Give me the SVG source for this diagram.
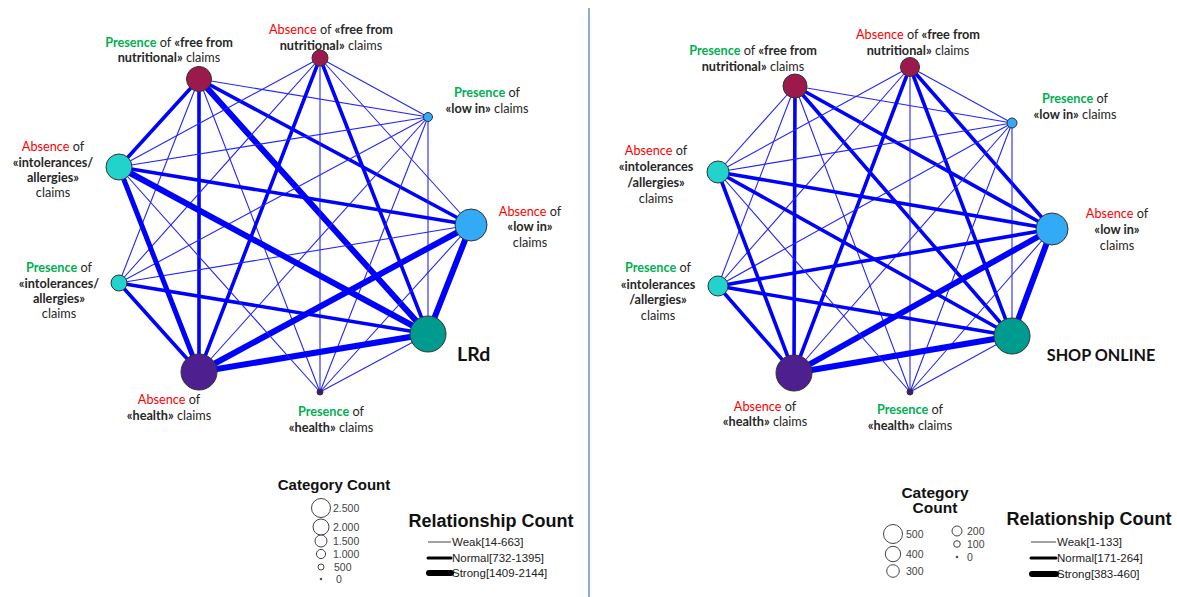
<svg xmlns="http://www.w3.org/2000/svg" width="1177" height="597" viewBox="0 0 1177 597">
<style>
.e{stroke:#0000ff;stroke-linecap:round;fill:none}
.w{stroke-width:1.1;stroke:#2424ff}
.n{stroke-width:3.6}
.s{stroke-width:6}
.nd{stroke:#333;stroke-width:1}
.mar{fill:#9c1a4b}
.lb{fill:#33aaf5}
.cy{fill:#22d3cc}
.tl{fill:#009b8f}
.pu{fill:#4e1f8f}
.dp{fill:#3d1a6e}
.lbl{font-family:Lato,"Open Sans","Liberation Sans",sans-serif;font-size:12.7px;fill:#262626;text-anchor:middle}
.b{font-weight:700}
.pr{fill:#00b050;font-weight:700}
.ab{fill:#ff0000}
.big{font-family:Lato,"Liberation Sans",sans-serif;font-weight:700;fill:#111}
.lg{font-family:"Liberation Sans",Arial,sans-serif;fill:#111}
.lgt{font-weight:700;text-anchor:middle}
.lgl{font-size:10.5px;fill:#444}
.lgr{font-size:11.5px;fill:#222}
.lc{fill:#fff;stroke:#444;stroke-width:1}
</style>
<line x1="589" y1="8" x2="589" y2="597" stroke="#4472c4" stroke-width="1.2"/>

<g id="connectors-left">
<line class="e w" x1="199" y1="79" x2="428" y2="117"/>
<line class="e n" x1="199" y1="79" x2="471" y2="225"/>
<line class="e s" x1="199" y1="79" x2="428" y2="334"/>
<line class="e w" x1="199" y1="79" x2="320" y2="392"/>
<line class="e n" x1="199" y1="79" x2="199" y2="372"/>
<line class="e w" x1="199" y1="79" x2="119" y2="283"/>
<line class="e n" x1="199" y1="79" x2="119" y2="167"/>
<line class="e w" x1="320" y1="58" x2="428" y2="117"/>
<line class="e w" x1="320" y1="58" x2="471" y2="225"/>
<line class="e n" x1="320" y1="58" x2="428" y2="334"/>
<line class="e w" x1="320" y1="58" x2="320" y2="392"/>
<line class="e n" x1="320" y1="58" x2="199" y2="372"/>
<line class="e w" x1="320" y1="58" x2="119" y2="283"/>
<line class="e w" x1="320" y1="58" x2="119" y2="167"/>
<line class="e w" x1="428" y1="117" x2="428" y2="334"/>
<line class="e w" x1="428" y1="117" x2="320" y2="392"/>
<line class="e w" x1="428" y1="117" x2="199" y2="372"/>
<line class="e w" x1="428" y1="117" x2="119" y2="283"/>
<line class="e w" x1="428" y1="117" x2="119" y2="167"/>
<line class="e s" x1="471" y1="225" x2="428" y2="334"/>
<line class="e w" x1="471" y1="225" x2="320" y2="392"/>
<line class="e s" x1="471" y1="225" x2="199" y2="372"/>
<line class="e w" x1="471" y1="225" x2="119" y2="283"/>
<line class="e n" x1="471" y1="225" x2="119" y2="167"/>
<line class="e w" x1="428" y1="334" x2="320" y2="392"/>
<line class="e s" x1="428" y1="334" x2="199" y2="372"/>
<line class="e n" x1="428" y1="334" x2="119" y2="283"/>
<line class="e s" x1="428" y1="334" x2="119" y2="167"/>
<line class="e w" x1="320" y1="392" x2="119" y2="167"/>
<line class="e n" x1="199" y1="372" x2="119" y2="283"/>
<line class="e" stroke-width="5" x1="199" y1="372" x2="119" y2="167"/>
</g>

<g id="connectors-right">
<line class="e w" x1="795" y1="86" x2="1012" y2="123"/>
<line class="e n" x1="795" y1="86" x2="1052" y2="229"/>
<line class="e n" x1="795" y1="86" x2="1012" y2="336"/>
<line class="e w" x1="795" y1="86" x2="910" y2="392"/>
<line class="e n" x1="795" y1="86" x2="794" y2="373"/>
<line class="e w" x1="795" y1="86" x2="718" y2="286"/>
<line class="e w" x1="795" y1="86" x2="718" y2="172"/>
<line class="e w" x1="910" y1="67" x2="1012" y2="123"/>
<line class="e n" x1="910" y1="67" x2="1052" y2="229"/>
<line class="e n" x1="910" y1="67" x2="1012" y2="336"/>
<line class="e w" x1="910" y1="67" x2="910" y2="392"/>
<line class="e n" x1="910" y1="67" x2="794" y2="373"/>
<line class="e w" x1="910" y1="67" x2="718" y2="286"/>
<line class="e w" x1="910" y1="67" x2="718" y2="172"/>
<line class="e w" x1="1012" y1="123" x2="1012" y2="336"/>
<line class="e w" x1="1012" y1="123" x2="910" y2="392"/>
<line class="e w" x1="1012" y1="123" x2="794" y2="373"/>
<line class="e w" x1="1012" y1="123" x2="718" y2="286"/>
<line class="e w" x1="1012" y1="123" x2="718" y2="172"/>
<line class="e s" x1="1052" y1="229" x2="1012" y2="336"/>
<line class="e w" x1="1052" y1="229" x2="910" y2="392"/>
<line class="e s" x1="1052" y1="229" x2="794" y2="373"/>
<line class="e n" x1="1052" y1="229" x2="718" y2="286"/>
<line class="e n" x1="1052" y1="229" x2="718" y2="172"/>
<line class="e w" x1="1012" y1="336" x2="910" y2="392"/>
<line class="e s" x1="1012" y1="336" x2="794" y2="373"/>
<line class="e n" x1="1012" y1="336" x2="718" y2="286"/>
<line class="e n" x1="1012" y1="336" x2="718" y2="172"/>
<line class="e w" x1="910" y1="392" x2="718" y2="172"/>
<line class="e n" x1="794" y1="373" x2="718" y2="286"/>
<line class="e n" x1="794" y1="373" x2="718" y2="172"/>
</g>

<!-- Left network nodes -->
<g id="L-presence-free">
<circle class="nd mar" cx="199" cy="79" r="12.5"/>
<text class="lbl" x="169" y="46.5"><tspan class="pr">Presence</tspan> of <tspan class="b">«free from</tspan></text>
<text class="lbl" x="169" y="61.5"><tspan class="b">nutritional»</tspan> claims</text>
</g>
<g id="L-absence-free">
<circle class="nd mar" cx="320" cy="58" r="8"/>
<text class="lbl" x="331" y="33.5"><tspan class="ab">Absence</tspan> of <tspan class="b">«free from</tspan></text>
<text class="lbl" x="331" y="49.5"><tspan class="b">nutritional»</tspan> claims</text>
</g>
<g id="L-presence-lowin">
<circle class="nd lb" cx="428" cy="117" r="4.5"/>
<text class="lbl" x="487" y="96.5"><tspan class="pr">Presence</tspan> of</text>
<text class="lbl" x="487" y="112.5"><tspan class="b">«low in»</tspan> claims</text>
</g>
<g id="L-absence-lowin">
<circle class="nd lb" cx="471" cy="225" r="16"/>
<text class="lbl" x="530" y="215.5"><tspan class="ab">Absence</tspan> of</text>
<text class="lbl b" x="530" y="230.5">«low in»</text>
<text class="lbl" x="530" y="246.5">claims</text>
</g>
<g id="L-LRd">
<circle class="nd tl" cx="428" cy="334" r="18"/>
<text class="big" x="457" y="361" font-size="19.5">LRd</text>
</g>
<g id="L-presence-health">
<circle class="nd dp" cx="320" cy="392" r="3"/>
<text class="lbl" x="331" y="415.5"><tspan class="pr">Presence</tspan> of</text>
<text class="lbl" x="331" y="431.5"><tspan class="b">«health»</tspan> claims</text>
</g>
<g id="L-absence-health">
<circle class="nd pu" cx="199" cy="372" r="18"/>
<text class="lbl" x="169" y="403.5"><tspan class="ab">Absence</tspan> of</text>
<text class="lbl" x="169" y="419.5"><tspan class="b">«health»</tspan> claims</text>
</g>
<g id="L-presence-intol">
<circle class="nd cy" cx="119" cy="283" r="8"/>
<text class="lbl" x="59" y="271.5"><tspan class="pr">Presence</tspan> of</text>
<text class="lbl b" x="59" y="287.5">«intolerances/</text>
<text class="lbl b" x="59" y="302.5">allergies»</text>
<text class="lbl" x="59" y="317.5">claims</text>
</g>
<g id="L-absence-intol">
<circle class="nd cy" cx="119" cy="167" r="13"/>
<text class="lbl" x="53" y="150.5"><tspan class="ab">Absence</tspan> of</text>
<text class="lbl b" x="53" y="166.5">«intolerances/</text>
<text class="lbl b" x="53" y="181.5">allergies»</text>
<text class="lbl" x="53" y="196.5">claims</text>
</g>

<!-- Right network nodes -->
<g id="R-presence-free">
<circle class="nd mar" cx="795" cy="86" r="12"/>
<text class="lbl" x="753" y="54.5"><tspan class="pr">Presence</tspan> of <tspan class="b">«free from</tspan></text>
<text class="lbl" x="753" y="70.5"><tspan class="b">nutritional»</tspan> claims</text>
</g>
<g id="R-absence-free">
<circle class="nd mar" cx="910" cy="67" r="9.5"/>
<text class="lbl" x="918" y="38.5"><tspan class="ab">Absence</tspan> of <tspan class="b">«free from</tspan></text>
<text class="lbl" x="918" y="54.5"><tspan class="b">nutritional»</tspan> claims</text>
</g>
<g id="R-presence-lowin">
<circle class="nd lb" cx="1012" cy="123" r="5"/>
<text class="lbl" x="1075" y="102.5"><tspan class="pr">Presence</tspan> of</text>
<text class="lbl" x="1075" y="118.5"><tspan class="b">«low in»</tspan> claims</text>
</g>
<g id="R-absence-lowin">
<circle class="nd lb" cx="1052" cy="229" r="16"/>
<text class="lbl" x="1117" y="217.5"><tspan class="ab">Absence</tspan> of</text>
<text class="lbl b" x="1117" y="233.5">«low in»</text>
<text class="lbl" x="1117" y="249.5">claims</text>
</g>
<g id="R-shop-online">
<circle class="nd tl" cx="1012" cy="336" r="18"/>
<text class="big" x="1101" y="361" text-anchor="middle" font-size="16.2">SHOP ONLINE</text>
</g>
<g id="R-presence-health">
<circle class="nd dp" cx="910" cy="392" r="3"/>
<text class="lbl" x="910" y="413.5"><tspan class="pr">Presence</tspan> of</text>
<text class="lbl" x="910" y="429.5"><tspan class="b">«health»</tspan> claims</text>
</g>
<g id="R-absence-health">
<circle class="nd pu" cx="794" cy="373" r="18"/>
<text class="lbl" x="765" y="410.5"><tspan class="ab">Absence</tspan> of</text>
<text class="lbl" x="765" y="425.5"><tspan class="b">«health»</tspan> claims</text>
</g>
<g id="R-presence-intol">
<circle class="nd cy" cx="718" cy="286" r="10"/>
<text class="lbl" x="658" y="271.5"><tspan class="pr">Presence</tspan> of</text>
<text class="lbl b" x="658" y="288.5">«intolerances</text>
<text class="lbl b" x="658" y="303.5">/allergies»</text>
<text class="lbl" x="658" y="319.5">claims</text>
</g>
<g id="R-absence-intol">
<circle class="nd cy" cx="718" cy="172" r="11"/>
<text class="lbl" x="656" y="154.5"><tspan class="ab">Absence</tspan> of</text>
<text class="lbl b" x="656" y="170.5">«intolerances</text>
<text class="lbl b" x="656" y="186.5">/allergies»</text>
<text class="lbl" x="656" y="202.5">claims</text>
</g>

<!-- Left legend -->
<g id="L-legend-category" class="lg">
<text class="lgt" x="334" y="490" font-size="15">Category Count</text>
<circle class="lc" cx="321" cy="508" r="9.5"/>
<circle class="lc" cx="321" cy="527" r="8"/>
<circle class="lc" cx="321" cy="541" r="6"/>
<circle class="lc" cx="321" cy="554" r="4.6"/>
<circle class="lc" cx="321" cy="567" r="3"/>
<circle cx="321" cy="579" r="1.3" fill="#555"/>
<text class="lgl" x="333" y="512">2.500</text>
<text class="lgl" x="333" y="531">2.000</text>
<text class="lgl" x="333" y="545">1.500</text>
<text class="lgl" x="333" y="558">1.000</text>
<text class="lgl" x="334" y="571">500</text>
<text class="lgl" x="336" y="583">0</text>
</g>
<g id="L-legend-relationship" class="lg">
<text class="lgt" x="491" y="526.5" font-size="18">Relationship Count</text>
<line x1="428" y1="542" x2="451" y2="542" stroke="#444" stroke-width="1"/>
<line x1="428" y1="558" x2="451" y2="558" stroke="#000" stroke-width="3" stroke-linecap="round"/>
<line x1="429" y1="573" x2="451" y2="573" stroke="#000" stroke-width="6" stroke-linecap="round"/>
<text class="lgr" x="452" y="546">Weak[14-663]</text>
<text class="lgr" x="452" y="562">Normal[732-1395]</text>
<text class="lgr" x="452" y="577">Strong[1409-2144]</text>
</g>

<!-- Right legend -->
<g id="R-legend-category" class="lg">
<text class="lgt" x="935" y="498" font-size="15.5">Category</text>
<text class="lgt" x="935" y="513" font-size="15.5">Count</text>
<circle class="lc" cx="893" cy="534" r="9.5"/>
<circle class="lc" cx="893" cy="554" r="7.7"/>
<circle class="lc" cx="893" cy="571" r="6.3"/>
<circle class="lc" cx="957" cy="531" r="5"/>
<circle class="lc" cx="957" cy="544" r="3.3"/>
<circle cx="957" cy="557" r="1.3" fill="#555"/>
<text class="lgl" x="906" y="538">500</text>
<text class="lgl" x="906" y="558">400</text>
<text class="lgl" x="906" y="575">300</text>
<text class="lgl" x="967" y="535">200</text>
<text class="lgl" x="967" y="548">100</text>
<text class="lgl" x="967" y="561">0</text>
</g>
<g id="R-legend-relationship" class="lg">
<text class="lgt" x="1089" y="524.5" font-size="18">Relationship Count</text>
<line x1="1031" y1="542" x2="1056" y2="542" stroke="#444" stroke-width="1"/>
<line x1="1031" y1="558" x2="1056" y2="558" stroke="#000" stroke-width="3" stroke-linecap="round"/>
<line x1="1032" y1="574" x2="1056" y2="574" stroke="#000" stroke-width="6" stroke-linecap="round"/>
<text class="lgr" x="1057" y="546">Weak[1-133]</text>
<text class="lgr" x="1057" y="562">Normal[171-264]</text>
<text class="lgr" x="1057" y="578">Strong[383-460]</text>
</g>
</svg>
